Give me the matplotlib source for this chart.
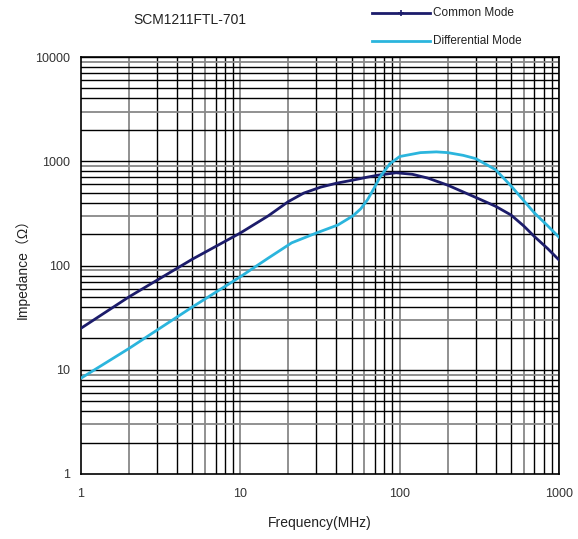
import matplotlib
matplotlib.use("Agg")
import matplotlib.pyplot as plt
from matplotlib.lines import Line2D

cm_freq = [1, 2, 5, 10, 15, 20, 25, 32, 40, 51, 63, 75, 95, 120, 150, 200, 300, 400, 500, 600, 700, 850, 1000]
cm_imp = [25, 50, 115, 205, 300, 410, 495, 565, 615, 660, 705, 740, 775, 750, 690, 590, 450, 370, 305, 240, 190, 145, 113]
dm_freq = [1, 2, 5, 10, 15, 21, 30, 41, 51, 57, 63, 69, 75, 87, 100, 135, 170, 200, 250, 300, 400, 500, 600, 700, 850, 1000]
dm_imp = [8.3, 16, 40, 78, 118, 165, 205, 245, 300, 350, 430, 550, 700, 950, 1110, 1210, 1230, 1210, 1140, 1060, 830, 580, 420, 320, 240, 187]

title = "SCM1211FTL-701"
series_names = ["Common Mode", "Differential Mode"]
xticks = [1, 10, 100, 1000]
yticks = [1, 10, 100, 1000, 10000]

fam = ["Liberation Sans", "DejaVu Sans", "Noto Sans CJK SC"]
plt.rcParams["font.family"] = fam

fig = plt.figure(figsize=(5.78, 5.39), dpi=100)
ax = fig.add_axes([81/578, 1-474/539, (559-81)/578, (474-57)/539])
ax.set_xscale("log")
ax.set_yscale("log")
ax.set_xlim(1, 1000)
ax.set_ylim(1, 10000)

# grid lines
for dec in [1, 10, 100]:
    for m in range(2, 10):
        v = m * dec
        col = "#888888" if m in (2, 6) else "black"
        ax.axvline(v, color=col, lw=1.3 if col != "black" else 1.0, zorder=1)
    ax.axvline(10*dec, color="#888888", lw=1.3, zorder=1)
for dec in [1, 10, 100, 1000]:
    for m in range(2, 10):
        v = m * dec
        col = "#888888" if m in (3, 9) else "black"
        ax.axhline(v, color=col, lw=1.3 if col != "black" else 1.0, zorder=1)
    ax.axhline(10*dec, color="black", lw=1.0, zorder=1)

ax.plot(cm_freq, cm_imp, color="#1c1c6b", lw=2.0, zorder=3, solid_joinstyle="round")
ax.plot(dm_freq, dm_imp, color="#2bb5dd", lw=2.0, zorder=3, solid_joinstyle="round")

for s in ax.spines.values():
    s.set_color("black")
    s.set_linewidth(1.2)

ax.set_xticks(xticks)
ax.set_xticklabels([str(t) for t in xticks])
ax.set_yticks(yticks)
ax.set_yticklabels([str(t) for t in yticks])
ax.minorticks_off()
ax.tick_params(length=0, labelsize=9, colors="#333333", pad=10)
ax.tick_params(axis="y", pad=8)

fig.text(320/578, 1-523/539, "Frequency(MHz)", ha="center", va="center", fontsize=10, color="#222222")
fig.text(22/578, 1-265/539, "Impedance（Ω）", ha="center", va="center", rotation=90, fontsize=10,
         color="#222222", family=fam)
fig.text(190/578, 1-20/539, title, ha="center", va="center", fontsize=10, color="#222222")

# legend
l1 = Line2D([372/578, 430/578], [1-13/539, 1-13/539], transform=fig.transFigure, color="#1c1c6b", lw=2)
m1 = Line2D([401/578], [1-13/539], transform=fig.transFigure, color="#1c1c6b", marker="+", ms=5, mew=1.2)
l2 = Line2D([372/578, 430/578], [1-41/539, 1-41/539], transform=fig.transFigure, color="#2bb5dd", lw=2)
fig.add_artist(l1); fig.add_artist(m1); fig.add_artist(l2)
fig.text(433/578, 1-13/539, series_names[0], ha="left", va="center", fontsize=8.5, color="#222222")
fig.text(433/578, 1-41/539, series_names[1], ha="left", va="center", fontsize=8.5, color="#222222")

fig.savefig("out.png", dpi=100)
